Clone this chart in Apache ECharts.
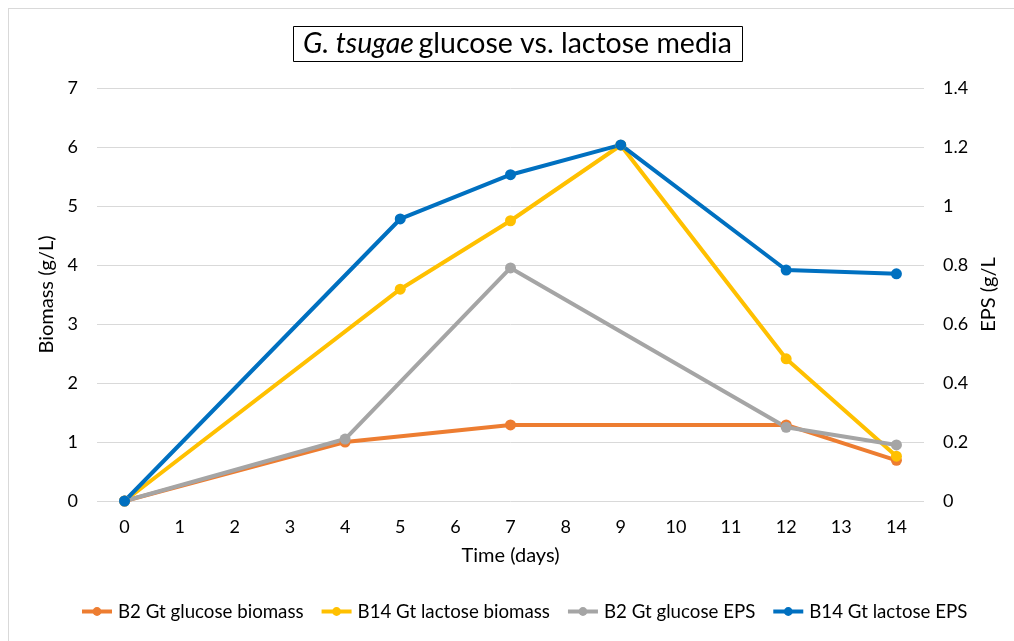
<!DOCTYPE html>
<html>
<head>
<meta charset="utf-8">
<script src="https://cdn.jsdelivr.net/npm/echarts@6/dist/echarts.min.js"></script>
<style>
html,body{margin:0;padding:0;background:#fff;}
#frame{position:absolute;left:8px;top:8px;width:1100px;height:700px;border:1px solid #d9d9d9;box-sizing:border-box;}
#chart{position:absolute;left:0;top:0;width:1014px;height:641px;}
</style>
</head>
<body>
<div id="frame"></div>
<div id="chart"></div>
<script>
const categories = ['0','1','2','3','4','5','6','7','8','9','10','11','12','13','14'];

const glucoseBiomassDays = [0, 4, 7, 12, 14];
const glucoseBiomass = [0, 1.0, 1.29, 1.29, 0.69];

const lactoseBiomassDays = [0, 5, 7, 9, 12, 14];
const lactoseBiomass = [0, 3.59, 4.75, 6.03, 2.41, 0.76];

const glucoseEPSDays = [0, 4, 7, 12, 14];
const glucoseEPS = [0, 0.21, 0.79, 0.25, 0.19];

const lactoseEPSDays = [0, 5, 7, 9, 12, 14];
const lactoseEPS = [0, 0.956, 1.106, 1.207, 0.783, 0.770];

const seriesNames = ['B2 Gt glucose biomass', 'B14 Gt lactose biomass', 'B2 Gt glucose EPS', 'B14 Gt lactose EPS'];
const colors = ['#ED7D31', '#FFC000', '#A5A5A5', '#0070C0'];

function pairs(days, vals){ return days.map((d,i)=>[String(d), vals[i]]); }

const FONT = 'Lato';
const chart = echarts.init(document.getElementById('chart'));

function mk(name, data, color, yIdx){
  return {
    name, type:'line', yAxisIndex:yIdx, data,
    symbol:'circle', symbolSize:11,
    lineStyle:{width:4, color}, itemStyle:{color},
    emphasis:{disabled:true}, animation:false
  };
}

chart.setOption({
  animation:false,
  textStyle:{fontFamily:FONT},
  title:{
    text:'{i|G. tsugae} {n|glucose vs. lactose media}',
    left:293, top:26,
    padding:[3,11,4,10],
    borderColor:'#000', borderWidth:1,
    textStyle:{
      fontWeight:'normal',
      rich:{
        i:{fontFamily:FONT, fontStyle:'italic', fontWeight:'normal', fontSize:28.5, color:'#000'},
        n:{fontFamily:FONT, fontWeight:'normal', fontSize:28.5, color:'#000'}
      }
    }
  },
  legend:{
    bottom:15, left:75,
    itemWidth:30, itemHeight:11, itemGap:16,
    data:seriesNames,
    lineStyle:{width:4},
    textStyle:{fontFamily:FONT, fontSize:18.7, color:'#000', padding:[0,0,0,1]}
  },
  grid:{left:97, right:90, top:88, bottom:140, containLabel:false},
  xAxis:{
    type:'category', data:categories, boundaryGap:true,
    name:'Time (days)', nameLocation:'middle', nameGap:45,
    nameTextStyle:{fontFamily:FONT, fontSize:20, color:'#000'},
    axisLine:{show:false}, axisTick:{show:false},
    axisLabel:{fontFamily:FONT, fontSize:18, color:'#000', margin:17}
  },
  yAxis:[
    {
      type:'value', min:0, max:7, interval:1,
      name:'Biomass (g/L)', nameLocation:'middle', nameGap:35,
      nameTextStyle:{fontFamily:FONT, fontSize:20, color:'#000'},
      axisLine:{show:false}, axisTick:{show:false},
      axisLabel:{fontFamily:FONT, fontSize:18, color:'#000', margin:19},
      splitLine:{lineStyle:{color:'#d9d9d9', width:1}}
    },
    {
      type:'value', min:0, max:1.4, interval:0.2,
      name:'EPS (g/L', nameLocation:'middle', nameGap:54,
      nameRotate:90,
      nameTextStyle:{fontFamily:FONT, fontSize:20, color:'#000'},
      axisLine:{show:false}, axisTick:{show:false},
      axisLabel:{fontFamily:FONT, fontSize:18, color:'#000', margin:19,
        formatter:v=>String(Math.round(v*10)/10)},
      splitLine:{show:false}
    }
  ],
  series:[
    mk(seriesNames[0], pairs(glucoseBiomassDays, glucoseBiomass), colors[0], 0),
    mk(seriesNames[1], pairs(lactoseBiomassDays, lactoseBiomass), colors[1], 0),
    mk(seriesNames[2], pairs(glucoseEPSDays, glucoseEPS), colors[2], 1),
    mk(seriesNames[3], pairs(lactoseEPSDays, lactoseEPS), colors[3], 1)
  ]
});
</script>
</body>
</html>
